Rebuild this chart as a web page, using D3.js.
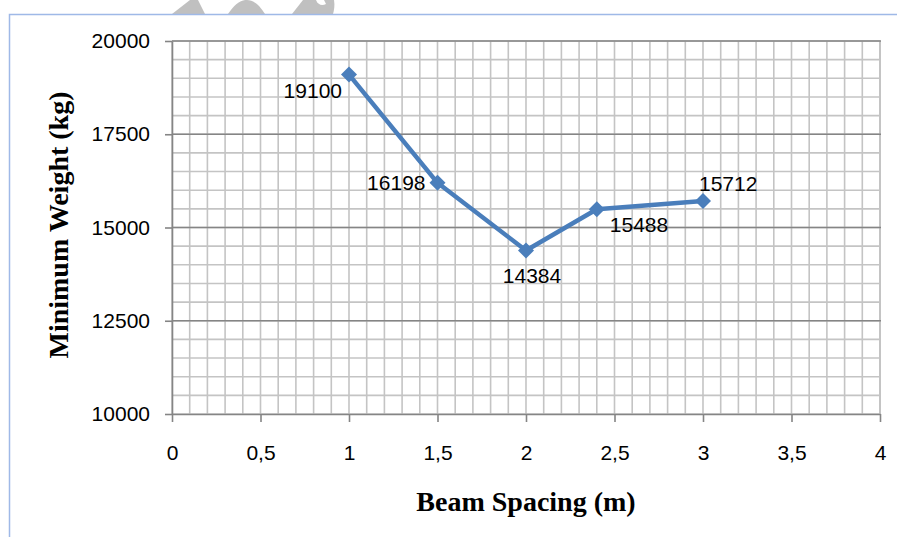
<!DOCTYPE html>
<meta charset="utf-8">
<style>
    body { margin: 0; background: #fff; }
    svg { display: block; }
    .tick text { font-family: "Liberation Sans", Arial, sans-serif; font-size: 21px; fill: #000; }
    .title { font-family: "Liberation Serif", "Times New Roman", serif; font-size: 28px; font-weight: bold; }
    .lbl { font-family: "Liberation Sans", Arial, sans-serif; font-size: 21px; }
</style>
<body>
<svg width="897" height="537"></svg>
</body>
<script src="https://cdn.jsdelivr.net/npm/d3@7"></script>
<script>

    // data
    var spacing = [1, 1.5, 2, 2.4, 3];
    var weight = [19100, 16198, 14384, 15488, 15712];
    var xTicks = [0, 0.5, 1, 1.5, 2, 2.5, 3, 3.5, 4];
    var yTicks = [10000, 12500, 15000, 17500, 20000];

    // where each value label sits relative to its point
    var labelPos = [
        {dx: -7, dy: 23.5, anchor: "end"},
        {dx: -12, dy: 7.5, anchor: "end"},
        {dx: 6, dy: 32.5, anchor: "middle"},
        {dx: 13, dy: 23, anchor: "start"},
        {dx: -4, dy: -9.5, anchor: "start"}
    ];

    var svg = d3.select("svg");
    var pLeft = 172, pRight = 880, pTop = 41, pBottom = 414;

    var x = d3.scaleLinear().domain([0, 4]).range([pLeft, pRight]);
    var y = d3.scaleLinear().domain([10000, 20000]).range([pBottom, pTop]);

    // watermark bits peeking in from the page above
    var wm = svg.append("g").attr("fill", "#c0c0c0");
    wm.append("path").attr("d", "M172,14 L190,0 L198,0 L205,14 Z");
    wm.append("path").attr("d", "M228,14 C236,2 242,0 247,0 C252,0 258,3 265,14 Z");
    wm.append("path").attr("d", "M292,14 L303,0 L334,0 C335,6 334,10 333,14 Z");
    wm.append("path").attr("d", "M316,0 C318,5 322,6 326,4 L324,0 Z").attr("fill", "#fff");

    // frame of the chart area
    svg.append("path")
        .attr("d", "M9.5,537 L9.5,14.5 L897,14.5")
        .attr("fill", "none")
        .attr("stroke", "#9fb9e7")
        .attr("stroke-width", 1.5);

    // minor grid
    svg.append("g")
        .selectAll("line")
        .data(x.ticks(40))
        .enter().append("line")
        .attr("x1", function (d) { return x(d); })
        .attr("x2", function (d) { return x(d); })
        .attr("y1", pTop)
        .attr("y2", pBottom)
        .attr("stroke", "#c4c4c4")
        .attr("stroke-width", function (d) { return d === 4 ? 2 : 1.6; });

    svg.append("g")
        .selectAll("line")
        .data(y.ticks(20))
        .enter().append("line")
        .attr("x1", pLeft)
        .attr("x2", pRight)
        .attr("y1", function (d) { return y(d); })
        .attr("y2", function (d) { return y(d); })
        .attr("stroke", "#c4c4c4")
        .attr("stroke-width", 1.6);

    // major horizontal grid
    svg.append("g")
        .selectAll("line")
        .data(yTicks.slice(1))
        .enter().append("line")
        .attr("x1", pLeft)
        .attr("x2", pRight + 1)
        .attr("y1", function (d) { return y(d); })
        .attr("y2", function (d) { return y(d); })
        .attr("stroke", "#858585")
        .attr("stroke-width", 1.5);

    // axes
    var fmt = function (d) { return String(d).replace(".", ","); };

    var xAxis = svg.append("g")
        .attr("transform", "translate(0," + pBottom + ")")
        .call(d3.axisBottom(x).tickValues(xTicks).tickFormat(fmt).tickSize(8).tickSizeOuter(0).tickPadding(23));
    xAxis.select(".domain").attr("stroke", "#858585").attr("stroke-width", 1.6);
    xAxis.selectAll(".tick line").attr("stroke", "#858585").attr("stroke-width", 1.6);

    var yAxis = svg.append("g")
        .attr("transform", "translate(" + pLeft + ",0)")
        .call(d3.axisLeft(y).tickValues(yTicks).tickFormat(String).tickSize(7).tickSizeOuter(0).tickPadding(15));
    yAxis.select(".domain").attr("stroke", "#858585").attr("stroke-width", 1.6);
    yAxis.selectAll(".tick line").attr("stroke", "#858585").attr("stroke-width", 1.6);

    // series
    var pts = spacing.map(function (d, i) { return [d, weight[i]]; });

    svg.append("path")
        .datum(pts)
        .attr("fill", "none")
        .attr("stroke", "#4a7ebb")
        .attr("stroke-width", 4.5)
        .attr("stroke-linejoin", "round")
        .attr("d", d3.line()
            .x(function (d) { return x(d[0]); })
            .y(function (d) { return y(d[1]); }));

    svg.append("g")
        .selectAll("path")
        .data(pts)
        .enter().append("path")
        .attr("transform", function (d) { return "translate(" + x(d[0]) + "," + y(d[1]) + ")"; })
        .attr("d", "M0,-8 L8,0 L0,8 L-8,0 Z")
        .attr("fill", "#4a7ebb");

    svg.append("g")
        .selectAll("text")
        .data(pts)
        .enter().append("text")
        .attr("class", "lbl")
        .attr("x", function (d, i) { return x(d[0]) + labelPos[i].dx; })
        .attr("y", function (d, i) { return y(d[1]) + labelPos[i].dy; })
        .attr("text-anchor", function (d, i) { return labelPos[i].anchor; })
        .text(function (d) { return d[1]; });

    // axis titles
    svg.append("text")
        .attr("class", "title")
        .attr("x", 526)
        .attr("y", 511)
        .attr("text-anchor", "middle")
        .text("Beam Spacing (m)");

    svg.append("text")
        .attr("class", "title")
        .attr("transform", "translate(68,225) rotate(-90)")
        .attr("text-anchor", "middle")
        .text("Minimum Weight (kg)");

</script>
